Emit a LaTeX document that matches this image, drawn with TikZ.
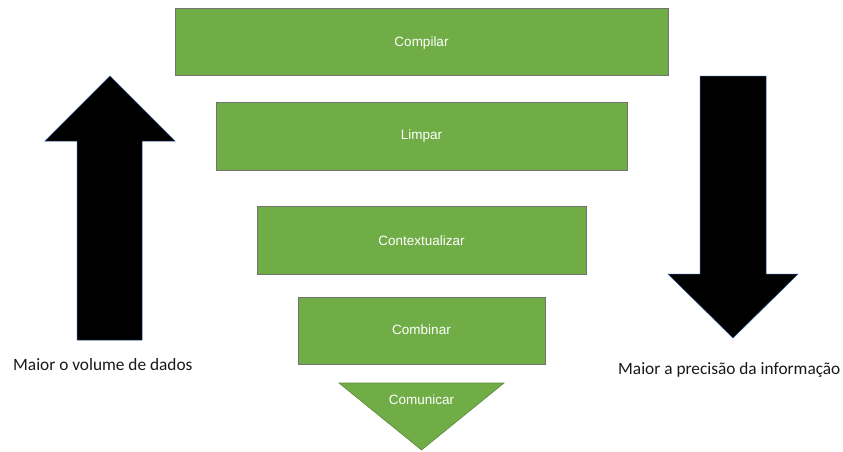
\documentclass[tikz,border=0pt]{standalone}
\usepackage{fontspec}
\setmainfont{Carlito}
\newfontfamily\boxfont{Liberation Sans}
\begin{document}
\begin{tikzpicture}[x=1pt,y=-1pt,
  stagebox/.style={fill=stagegreen,draw=black!55,line width=0.6pt},
  stagetext/.style={font=\boxfont\fontsize{13.5}{16}\selectfont,text=white,inner sep=0pt},
  bigarrow/.style={fill=black,draw=arrowedge,line width=0.5pt},
  sidelabel/.style={font=\fontsize{17.3}{20}\selectfont,text=black!90,inner sep=0pt,anchor=west}]
\definecolor{stagegreen}{HTML}{70AD47}
\definecolor{arrowedge}{HTML}{2F528F}
\useasboundingbox (0,0) rectangle (843,451);
\fill[white] (0,0) rectangle (843,451);
% stages
\draw[stagebox] (175,8) rectangle (668,75);
\node[stagetext] (compilar) at (421.5,43) {Compilar};
\draw[stagebox] (216,102) rectangle (627,170);
\node[stagetext] (limpar) at (421.5,136) {Limpar};
\draw[stagebox] (257,206) rectangle (586,274);
\node[stagetext] (contextualizar) at (421.5,241) {Contextualizar};
\draw[stagebox] (298,297) rectangle (545,364);
\node[stagetext] (combinar) at (421.5,330) {Combinar};
\draw[stagebox,draw=stagegreen!80!black] (339,383) -- (504,383) -- (421.5,450) -- cycle;
\node[stagetext] (comunicar) at (421.5,400) {Comunicar};
% arrows
\draw[bigarrow] (110,76) -- (175,141) -- (142,141) -- (142,340) -- (77,340) -- (77,141) -- (45,141) -- cycle;
\draw[bigarrow] (700,76) -- (766,76) -- (766,274) -- (798,274) -- (733,338) -- (668,274) -- (700,274) -- cycle;
% labels
\node[sidelabel] (volume) at (13,365) {Maior o volume de dados};
\node[sidelabel] (precisao) at (618,370) {Maior a precisão da informação};
\end{tikzpicture}
\end{document}
